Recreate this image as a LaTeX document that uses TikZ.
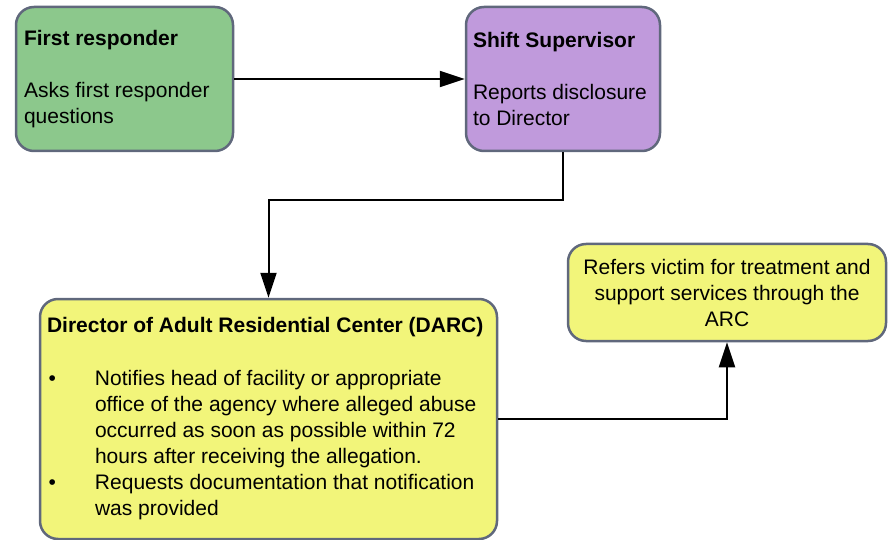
\documentclass[tikz,border=0pt]{standalone}
\usepackage{fontspec}
\setmainfont{Liberation Sans}
\usetikzlibrary{arrows.meta}
\definecolor{greenfill}{RGB}{140,200,140}
\definecolor{purplefill}{RGB}{192,154,220}
\definecolor{yellowfill}{RGB}{242,245,122}
\definecolor{boxborder}{RGB}{96,104,124}
\tikzset{
  boxnode/.style={draw=boxborder, line width=2.5pt, rounded corners=18pt,
    inner ysep=0pt, inner xsep=7pt, anchor=center},
  conn/.style={line width=2pt, black, -{Triangle[length=25pt,width=16pt]}}
}
\begin{document}
\begin{tikzpicture}[x=1pt,y=-1pt,font=\fontsize{21pt}{26pt}\selectfont]
\useasboundingbox (0,0) rectangle (889,540);
\node[boxnode, fill=greenfill, minimum width=217pt, minimum height=144pt, inner xsep=8pt] (A) at (124.5,79)
  {\parbox{201pt}{\raggedright\textbf{First responder}\par\vspace{26pt}Asks first responder\\questions}};
\node[boxnode, fill=purplefill, minimum width=194pt, minimum height=144pt] (B) at (563,79)
  {\parbox{180pt}{\raggedright\textbf{Shift Supervisor}\par\vspace{26pt}Reports disclosure\\to Director}};
\node[boxnode, fill=yellowfill, minimum width=457pt, minimum height=240pt] (C) at (268.5,419)
  {\parbox{443pt}{\raggedright\mbox{\textbf{Director of Adult Residential Center (DARC)}}\par\vspace{27pt}
  \hangindent=48pt\hangafter=1\noindent\makebox[48pt][l]{\hspace{1.5pt}•}Notifies head of facility or appropriate\newline office of the agency where alleged abuse\newline occurred as soon as possible within 72\newline hours after receiving the allegation.\par
  \hangindent=48pt\hangafter=1\noindent\makebox[48pt][l]{\hspace{1.5pt}•}Requests documentation that notification\newline was provided\par}};
\node[boxnode, fill=yellowfill, minimum width=318pt, minimum height=97pt] (D) at (727,292.5)
  {\parbox{300pt}{\centering Refers victim for treatment and\\support services through the\\ARC}};
\draw[conn] (A.east) -- (B.west);
\draw[conn] (B.south) -- ++(0,48) -| (C.north);
\draw[conn] (C.east) -| (D.south);
\end{tikzpicture}
\end{document}
